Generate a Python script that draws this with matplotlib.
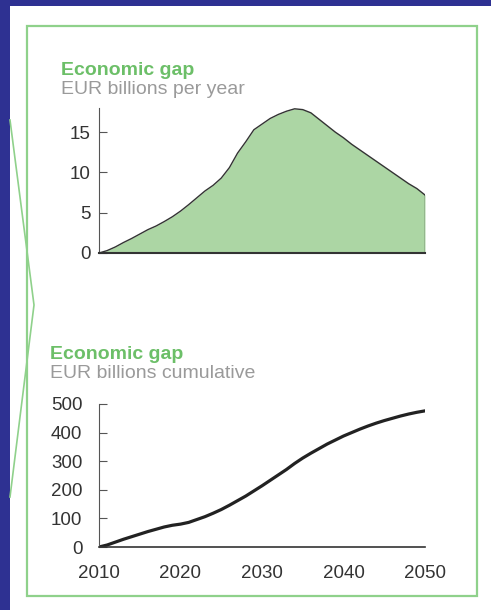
import numpy as np
import matplotlib
matplotlib.use('Agg')
from matplotlib import pyplot as plt
from matplotlib.patches import Rectangle
from matplotlib.lines import Line2D

plt.rcParams['font.family'] = ['Liberation Sans', 'DejaVu Sans']

years = np.arange(2010, 2051)

# annual economic gap, EUR bn per year
gap_annual = [0.0, 0.3, 0.75, 1.3, 1.8, 2.35, 2.9, 3.35, 3.9, 4.5,
              5.2, 6.0, 6.85, 7.7, 8.4, 9.3, 10.6, 12.4, 13.8, 15.3,
              16.0, 16.7, 17.2, 17.6, 17.9, 17.8, 17.4, 16.6, 15.8, 15.0,
              14.3, 13.5, 12.8, 12.1, 11.4, 10.7, 10.0, 9.3, 8.6, 8.0,
              7.2]

# cumulative economic gap, EUR bn
gap_cumulative = [0, 7, 17, 27, 36, 45, 54, 62, 70, 76,
                  80, 86, 96, 106, 118, 131, 146, 162, 178, 196,
                  214, 233, 252, 271, 292, 311, 328, 344, 360, 374,
                  388, 400, 412, 423, 433, 442, 450, 458, 465, 471,
                  476]

top_ticks = [0, 5, 10, 15]
bottom_ticks = [0, 100, 200, 300, 400, 500]
year_ticks = [2010, 2020, 2030, 2040, 2050]

title = 'Economic gap'
sub_top = 'EUR billions per year'
sub_bottom = 'EUR billions cumulative'

W, H = 491, 610
blue = '#2e3192'
green_box = '#8fd18b'
green_title = '#6cbf68'
fill_green = '#acd6a4'
grey_text = '#9a9a9a'
dark = '#333333'
fs = 13.5
fs_title = 14

fig = plt.figure(figsize=(W / 100, H / 100), dpi=100)
fig.patch.set_facecolor('white')


def fx(x):
    return x / W


def fy(y):
    return 1 - y / H


# blue frame on top and left
fig.add_artist(Rectangle((0, fy(6)), 1, 6 / H, transform=fig.transFigure,
                         color=blue, lw=0, zorder=0))
fig.add_artist(Rectangle((0, 0), fx(10), 1, transform=fig.transFigure,
                         color=blue, lw=0, zorder=0))

# green panel outline
fig.add_artist(Rectangle((fx(27), fy(596)), fx(477 - 27), (596 - 26) / H,
                         transform=fig.transFigure, fill=False,
                         ec=green_box, lw=1.6, zorder=1))

# callout lines on the left
fig.add_artist(Line2D([fx(10), fx(34), fx(10)], [fy(120), fy(305), fy(497)],
                      transform=fig.transFigure, color=green_box, lw=1.2))

# titles
for ty, sub, xt in [(75, sub_top, 61), (359, sub_bottom, 50)]:
    fig.text(fx(xt), fy(ty), title, color=green_title, fontsize=fs_title,
             fontweight='bold', va='baseline', ha='left')
    fig.text(fx(xt), fy(ty + 19), sub, color=grey_text, fontsize=fs_title,
             va='baseline', ha='left')


def style_axes(ax):
    for s in ['top', 'right']:
        ax.spines[s].set_visible(False)
    ax.spines['left'].set_color('#555555')
    ax.spines['bottom'].set_color(dark)
    ax.tick_params(axis='y', direction='in', length=6, color='#555555',
                   labelsize=fs, labelcolor='#333333')
    ax.tick_params(axis='x', length=0, labelsize=fs, labelcolor='#333333')
    ax.set_facecolor('none')


# top: annual gap
ax1 = fig.add_axes([fx(99), fy(253), fx(425 - 99), (253 - 108) / H])
ax1.fill_between(years, gap_annual, color=fill_green, lw=0)
ax1.plot(years, gap_annual, color=dark, lw=1.0)
ax1.plot([years[-1], years[-1]], [0, gap_annual[-1]], color=dark, lw=1.0)
ax1.set_xlim(2010, 2050)
ax1.set_ylim(0, 18)
ax1.set_yticks(top_ticks)
ax1.set_xticks([])
style_axes(ax1)
ax1.spines['bottom'].set_linewidth(1.5)
ax1.tick_params(axis='y', pad=6)

# bottom: cumulative gap
ax2 = fig.add_axes([fx(99), fy(547), fx(425 - 99), (547 - 404) / H])
ax2.plot(years, gap_cumulative, color='#222222', lw=2.3, solid_capstyle='round')
ax2.set_xlim(2010, 2050)
ax2.set_ylim(0, 500)
ax2.set_yticks(bottom_ticks)
ax2.set_xticks(year_ticks)
style_axes(ax2)
ax2.spines['bottom'].set_linewidth(1.2)
ax2.tick_params(axis='y', pad=12)
ax2.tick_params(axis='x', pad=13)

fig.savefig('out.png', dpi=100)
